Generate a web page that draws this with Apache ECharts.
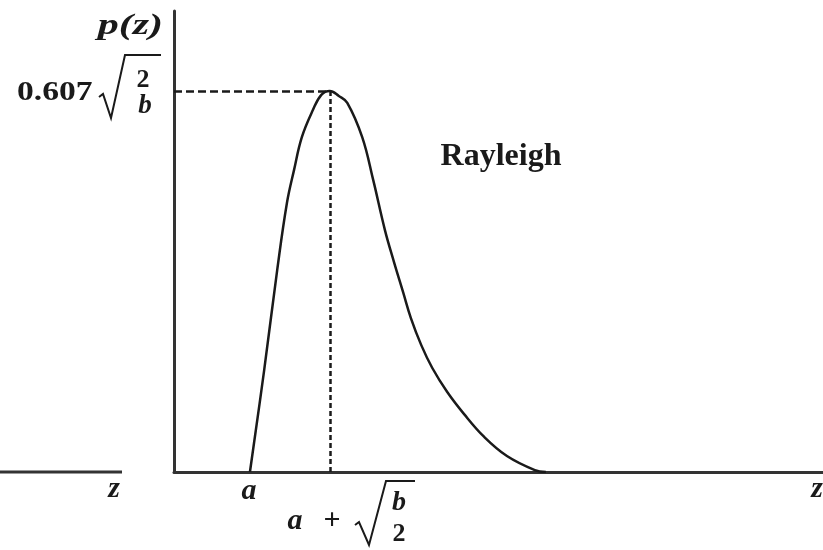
<!DOCTYPE html>
<html>
<head>
<meta charset="utf-8">
<title>Rayleigh</title>
<script src="https://cdn.jsdelivr.net/npm/echarts@6/dist/echarts.min.js"></script>
<style>
html,body{margin:0;padding:0;background:#fff;}
#main{width:823px;height:550px;}
</style>
</head>
<body>
<div id="main"></div>
<script>
// curve (z in axis units, p(z) scaled so the peak is 1)
var curveZ=[1.17,1.39,1.59,1.74,1.85,1.97,2.14,2.27,2.40,2.54,2.67,2.90,3.07,3.25,3.39,3.53,3.65,3.81,3.98,4.21,4.47,4.78,5.13,5.56,5.73];
var curveP=[0,0.268,0.53,0.706,0.793,0.879,0.95,0.99,1.0,0.987,0.969,0.879,0.766,0.635,0.551,0.472,0.404,0.333,0.273,0.21,0.152,0.092,0.042,0.005,0];
var peakZ=2.40;  //a + sqrt(b/2)
var peakP=1.0;   //0.607 sqrt(2/b)

var serif='"Liberation Serif", "Times New Roman", serif';
var ink='#1a1a1a';

function txt(s,x,y,font,opt){
	var o={
		type:'text',x:x,y:y,
		style:{text:s,font:font,fill:ink,align:'center',verticalAlign:'middle'}
	};
	if(opt){
		for(var k in opt){
			if(k==='align'){o.style.align=opt[k];}else{o[k]=opt[k];}
		}
	}
	return o;
}

var data=[];
for(var i=0;i<curveZ.length;i++){
	data.push([curveZ[i],curveP[i]]);
}

var chart=echarts.init(document.getElementById('main'));
chart.setOption({
	animation:false,
	backgroundColor:'#fff',
	grid:{left:174,right:0,top:11,bottom:78},
	xAxis:{
		type:'value',min:0,max:10,
		axisLine:{show:true,lineStyle:{color:'#333',width:3}},
		axisTick:{show:false},axisLabel:{show:false},splitLine:{show:false}
	},
	yAxis:{
		type:'value',min:0,max:1.21,
		axisLine:{show:true,lineStyle:{color:'#333',width:3}},
		axisTick:{show:false},axisLabel:{show:false},splitLine:{show:false}
	},
	series:[{
		type:'line',
		data:data,
		smooth:0.4,
		symbol:'none',
		lineStyle:{color:ink,width:2.5},
		markLine:{
			silent:true,
			symbol:'none',
			label:{show:false},
			data:[
				[{coord:[0,peakP],lineStyle:{type:[8,4],color:ink,width:2.5}},{coord:[peakZ,peakP]}],
				[{coord:[peakZ,peakP],lineStyle:{type:[5,3],color:ink,width:2.5}},{coord:[peakZ,0]}]
			]
		}
	}],
	graphic:[
		//left piece of the z axis
		{type:'line',shape:{x1:0,y1:472,x2:122,y2:472},style:{stroke:'#333',lineWidth:3}},
		txt('p(z)',163,26,'italic bold 30px '+serif,{align:'right',scaleX:1.4}),
		txt('0.607',17,93,'bold 28px '+serif,{align:'left',scaleX:1.2}),
		{type:'polyline',shape:{points:[[99,97],[103,94],[111,118],[125,55],[161,55]]},style:{stroke:ink,lineWidth:2,fill:null}},
		txt('2',143,80,'bold 26px '+serif),
		txt('b',145,106,'italic bold 27px '+serif),
		txt('Rayleigh',501,157,'bold 32px '+serif),
		txt('z',114,489,'italic bold 30px '+serif),
		txt('z',817,489,'italic bold 30px '+serif),
		txt('a',249,491,'italic bold 30px '+serif),
		txt('a',295,521,'italic bold 30px '+serif),
		txt('+',332,521,'bold 30px '+serif),
		{type:'polyline',shape:{points:[[355,525],[359,522],[369,545],[386,481],[415,481]]},style:{stroke:ink,lineWidth:2,fill:null}},
		txt('b',399,503,'italic bold 28px '+serif),
		txt('2',399,534,'bold 26px '+serif)
	]
});
</script>
</body>
</html>
